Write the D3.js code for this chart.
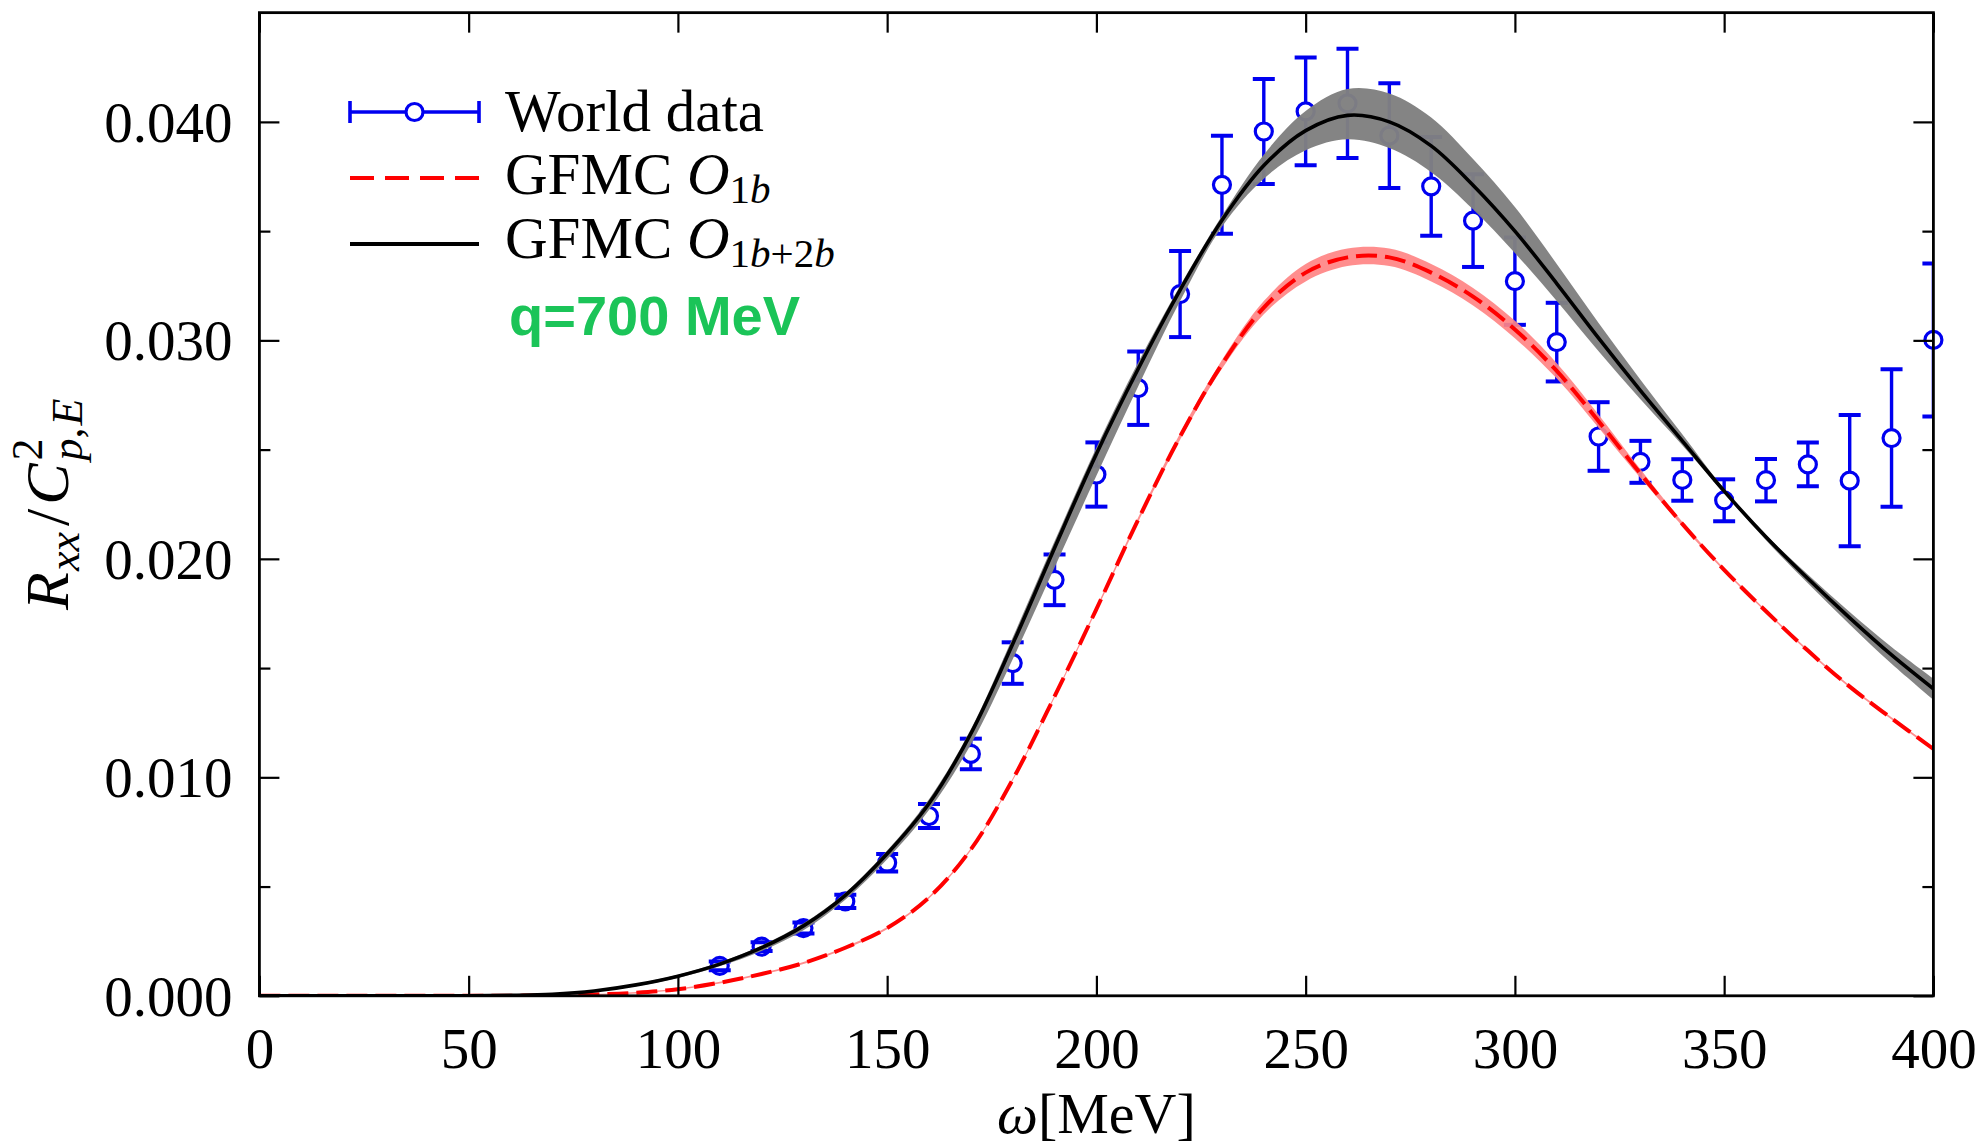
<!DOCTYPE html>
<html>
<head>
<meta charset="utf-8">
<script src="https://cdn.jsdelivr.net/npm/d3@7"></script>
<style>
  body { margin: 0; background: #fff; }
  svg { display: block; }
</style>
</head>
<body>
<svg id="chart" width="1984" height="1146"></svg>
<script>
// ---------------- DATA ----------------
const omegaPoints = [110,120,130,140,150,160,170,180,190,200,210,220,230,240,250,260,270,280,290,300,310,320,330,340,350,360,370,380,390,400];
const worldData  = [0.00137,0.00225,0.00310,0.00432,0.00609,0.00823,0.01107,0.01523,0.01904,0.02386,0.02781,0.03212,0.03712,0.03956,0.04048,0.04085,0.03937,0.03705,0.03548,0.03271,0.02992,0.02560,0.02444,0.02361,0.02268,0.02360,0.02432,0.02358,0.02553,0.03002];
const worldErr   = [0.00020,0.00020,0.00025,0.00030,0.00040,0.00055,0.00070,0.00095,0.00116,0.00147,0.00168,0.00197,0.00224,0.00240,0.00247,0.00250,0.00240,0.00226,0.00212,0.00200,0.00180,0.00157,0.00096,0.00095,0.00096,0.00097,0.00100,0.00300,0.00315,0.00350];

const omegaGrid = [0,10,20,30,40,50,60,70,80,90,100,110,120,130,140,150,160,170,180,190,200,210,220,230,240,250,260,270,280,290,300,310,320,330,340,350,360,370,380,390,400];
const gfmc1b2b = [0,0,0,0,0,0.000005,0.00002,0.00007,0.00022,0.0005,0.0009,0.00145,0.0022,0.0032,0.0046,0.0065,0.0088,0.0120,0.0161,0.0205,0.0248,0.0287,0.0323,0.0355,0.0380,0.0396,0.0403,0.0400,0.0389,0.0371,0.0350,0.0326,0.0301,0.0277,0.0254,0.0231,0.0210,0.0191,0.0173,0.0156,0.01405];
const gfmc1b2bUp   = [0,0,0,0,0,0,0.00001,0.00002,0.00003,0.00005,0.00006,0.00008,0.0001,0.00012,0.00012,0.00015,0.0002,0.0002,0.0003,0.0003,0.0003,0.0003,0.0002,0.0002,0.0005,0.0009,0.0012,0.0013,0.0013,0.0012,0.0011,0.0009,0.0007,0.0005,0.0003,0.0001,0.0001,0.00018,0.00027,0.00037,0.00047];
const gfmc1b2bDown = [0,0,0,0,0,0,0.00001,0.00002,0.00004,0.00006,0.00008,0.0001,0.00015,0.0002,0.0002,0.00025,0.0003,0.0005,0.0007,0.0009,0.001,0.0008,0.0005,0.0003,0.0006,0.0009,0.0011,0.0012,0.0012,0.0011,0.001,0.0008,0.0006,0.0004,0.0002,0.0001,0.00015,0.00022,0.0003,0.0004,0.0005];
const gfmc1b = [0,0,0,0,0,0,0.000005,0.00002,0.00006,0.00014,0.0003,0.0006,0.001,0.0015,0.0022,0.0031,0.0045,0.0067,0.0099,0.0137,0.0177,0.0218,0.0256,0.0289,0.0315,0.0331,0.0338,0.0338,0.0331,0.0320,0.0305,0.0286,0.0263,0.0239,0.0216,0.0195,0.0176,0.0158,0.01415,0.0127,0.0113];
const gfmc1bBand = [0,0,0,0,0,0,0.00001,0.00002,0.00002,0.00003,0.00003,0.00004,0.00004,0.00005,0.00005,0.00005,0.00005,0.00005,0.00005,0.00006,0.00007,0.0001,0.00015,0.0002,0.0003,0.0004,0.0004,0.0004,0.0004,0.0004,0.0004,0.00035,0.0003,0.0002,0.0001,0.00006,0.00005,0.00005,0.00005,0.00005,0.00005];

const xTicks = [0,50,100,150,200,250,300,350,400];
const yTicks = [0,0.01,0.02,0.03,0.04];
const yMinorTicks = [0.005,0.015,0.025,0.035];

// ---------------- LAYOUT ----------------
const M = {left: 259.4, right: 1933.4, top: 12.65, bottom: 995.8};
const SERIF = "'Liberation Serif','Times New Roman',serif";
const BLUE = '#0000f0';

const svg = d3.select('#chart');
svg.append('rect').attr('width',1984).attr('height',1146).attr('fill','#fff');

const x = d3.scaleLinear().domain([0,400]).range([M.left, M.right]);
const y = d3.scaleLinear().domain([0,0.045]).range([M.bottom, M.top]);

svg.append('defs').append('clipPath').attr('id','clip')
  .append('rect').attr('x',M.left).attr('y',M.top)
  .attr('width',M.right-M.left).attr('height',M.bottom-M.top);

const pts = omegaPoints.map((w,i)=>({w, v: worldData[i], e: worldErr[i]}));
const grid = omegaGrid.map((w,i)=>({w, b: gfmc1b2b[i], bu: gfmc1b2bUp[i], bd: gfmc1b2bDown[i], r: gfmc1b[i], rb: gfmc1bBand[i]}));

// error bar stems (clipped)
const ebG = svg.append('g').attr('clip-path','url(#clip)');
ebG.selectAll('line.stem').data(pts).join('line').attr('class','stem')
  .attr('x1',d=>x(d.w)).attr('x2',d=>x(d.w))
  .attr('y1',d=>y(d.v-d.e)).attr('y2',d=>y(d.v+d.e))
  .attr('stroke',BLUE).attr('stroke-width',3.4);

// circles
svg.append('g').selectAll('circle').data(pts).join('circle')
  .attr('cx',d=>x(d.w)).attr('cy',d=>y(d.v)).attr('r',8.5)
  .attr('fill','#fff').attr('stroke',BLUE).attr('stroke-width',3.2);

// caps (clipped)
const capG = svg.append('g').attr('clip-path','url(#clip)');
['lo','hi'].forEach(k=>{
  capG.selectAll('line.'+k).data(pts).join('line').attr('class',k)
    .attr('x1',d=>x(d.w)-11).attr('x2',d=>x(d.w)+11)
    .attr('y1',d=>y(k==='lo'?d.v-d.e:d.v+d.e)).attr('y2',d=>y(k==='lo'?d.v-d.e:d.v+d.e))
    .attr('stroke',BLUE).attr('stroke-width',4);
});

// bands and lines
const CURVE = d3.curveCatmullRom.alpha(0.5);
const curveG = svg.append('g').attr('clip-path','url(#clip)');
const redArea = d3.area().x(d=>x(d.w)).y0(d=>y(d.r-d.rb)).y1(d=>y(d.r+d.rb)).curve(CURVE);
const blackArea = d3.area().x(d=>x(d.w)).y0(d=>y(d.b-d.bd)).y1(d=>y(d.b+d.bu)).curve(CURVE);
curveG.append('path').datum(grid).attr('d',redArea).attr('fill','#ff8484').attr('opacity',0.92);
curveG.append('path').datum(grid).attr('d',blackArea).attr('fill','#808080').attr('opacity',0.97);

const redLine = d3.line().x(d=>x(d.w)).y(d=>y(d.r)).curve(CURVE);
const blackLine = d3.line().x(d=>x(d.w)).y(d=>y(d.b)).curve(CURVE);
curveG.append('path').datum(grid).attr('d',redLine).attr('fill','none')
  .attr('stroke','#ff0000').attr('stroke-width',4).attr('stroke-dasharray','21,8');
curveG.append('path').datum(grid).attr('d',blackLine).attr('fill','none')
  .attr('stroke','#000').attr('stroke-width',3.6);

// ---------------- AXES ----------------
function styleAxis(g){
  g.select('.domain').remove();
  g.selectAll('.tick line').attr('stroke','#000').attr('stroke-width',2.2);
  g.attr('font-family',SERIF).attr('font-size',57);
  g.selectAll('.tick text').attr('fill','#000');
}
const gB = svg.append('g').attr('transform',`translate(0,${M.bottom})`)
  .call(d3.axisBottom(x).tickValues(xTicks).tickSize(-20).tickFormat(d3.format('d')));
styleAxis(gB);
gB.selectAll('.tick text').attr('y',72).attr('dy',null);

const gT = svg.append('g').attr('transform',`translate(0,${M.top})`)
  .call(d3.axisTop(x).tickValues(xTicks).tickSize(-20).tickFormat(''));
styleAxis(gT);

const gL = svg.append('g').attr('transform',`translate(${M.left},0)`)
  .call(d3.axisLeft(y).tickValues(yTicks).tickSize(-20).tickFormat(d3.format('.3f')));
styleAxis(gL);
gL.selectAll('.tick text').attr('x',-27).attr('dy','0.34em');

const gLm = svg.append('g').attr('transform',`translate(${M.left},0)`)
  .call(d3.axisLeft(y).tickValues(yMinorTicks).tickSize(-11).tickFormat(''));
styleAxis(gLm);

const gR = svg.append('g').attr('transform',`translate(${M.right},0)`)
  .call(d3.axisRight(y).tickValues(yTicks).tickSize(-20).tickFormat(''));
styleAxis(gR);
const gRm = svg.append('g').attr('transform',`translate(${M.right},0)`)
  .call(d3.axisRight(y).tickValues(yMinorTicks).tickSize(-11).tickFormat(''));
styleAxis(gRm);

// frame
svg.append('rect').attr('x',M.left).attr('y',M.top)
  .attr('width',M.right-M.left).attr('height',M.bottom-M.top)
  .attr('fill','none').attr('stroke','#000').attr('stroke-width',2.8);

// ---------------- LABELS ----------------
const xl = svg.append('text').attr('x',(M.left+M.right)/2).attr('y',1133)
  .attr('text-anchor','middle').attr('font-family',SERIF).attr('font-size',58).attr('fill','#000');
xl.append('tspan').attr('font-style','italic').text('ω');
xl.append('tspan').text('[MeV]');

const yl = svg.append('text').attr('transform',`translate(68,${(M.top+M.bottom)/2}) rotate(-90)`)
  .attr('text-anchor','middle').attr('font-family',SERIF).attr('font-size',62).attr('fill','#000');
yl.append('tspan').attr('font-style','italic').text('R');
yl.append('tspan').attr('font-style','italic').attr('font-size',44).attr('dy',11).attr('dx',1).text('xx');
yl.append('tspan').attr('dy',-11).attr('dx',6).text('/');
yl.append('tspan').attr('font-style','italic').attr('dx',4).text('C');
const sup2 = yl.append('tspan').attr('font-size',44).attr('dy',-26).attr('dx',3).text('2');
const w2 = sup2.node().getComputedTextLength();
const sub = yl.append('tspan').attr('font-size',44).attr('dy',40).attr('dx',-w2);
sub.append('tspan').attr('font-style','italic').text('p');
sub.append('tspan').text(',');
sub.append('tspan').attr('font-style','italic').attr('dx',2).text('E');

// ---------------- LEGEND ----------------
const lx0 = 350, lx1 = 479, tx = 505;
const leg = svg.append('g');
// World data
leg.append('line').attr('x1',lx0).attr('x2',lx1).attr('y1',112).attr('y2',112).attr('stroke',BLUE).attr('stroke-width',3.6);
[lx0,lx1].forEach(xx=>leg.append('line').attr('x1',xx).attr('x2',xx).attr('y1',101).attr('y2',123).attr('stroke',BLUE).attr('stroke-width',3.6));
leg.append('circle').attr('cx',(lx0+lx1)/2).attr('cy',112).attr('r',8.5).attr('fill','#fff').attr('stroke',BLUE).attr('stroke-width',3.2);
leg.append('text').attr('x',tx).attr('y',131).attr('font-family',SERIF).attr('font-size',59).attr('fill','#000').text('World data');
// GFMC O1b
leg.append('line').attr('x1',lx0).attr('x2',lx1).attr('y1',178).attr('y2',178).attr('stroke','#ff0000').attr('stroke-width',4).attr('stroke-dasharray','24,11');
const t2 = leg.append('text').attr('x',tx).attr('y',194).attr('font-family',SERIF).attr('font-size',59).attr('fill','#000');
t2.append('tspan').text('GFMC ');
t2.append('tspan').attr('font-style','italic').text('O');
const s2 = t2.append('tspan').attr('font-size',41).attr('dy',9);
s2.append('tspan').text('1');
s2.append('tspan').attr('font-style','italic').text('b');
// GFMC O1b+2b
leg.append('line').attr('x1',lx0).attr('x2',lx1).attr('y1',244).attr('y2',244).attr('stroke','#000').attr('stroke-width',4);
const t3 = leg.append('text').attr('x',tx).attr('y',258).attr('font-family',SERIF).attr('font-size',59).attr('fill','#000');
t3.append('tspan').text('GFMC ');
t3.append('tspan').attr('font-style','italic').text('O');
const s3 = t3.append('tspan').attr('font-size',41).attr('dy',9);
s3.append('tspan').text('1');
s3.append('tspan').attr('font-style','italic').text('b');
s3.append('tspan').text('+2');
s3.append('tspan').attr('font-style','italic').text('b');
// q label
leg.append('text').attr('x',509).attr('y',335)
  .attr('font-family',"'Liberation Sans',Arial,sans-serif").attr('font-weight','bold')
  .attr('font-size',56).attr('fill','#1bc458').text('q=700 MeV');
</script>
</body>
</html>
